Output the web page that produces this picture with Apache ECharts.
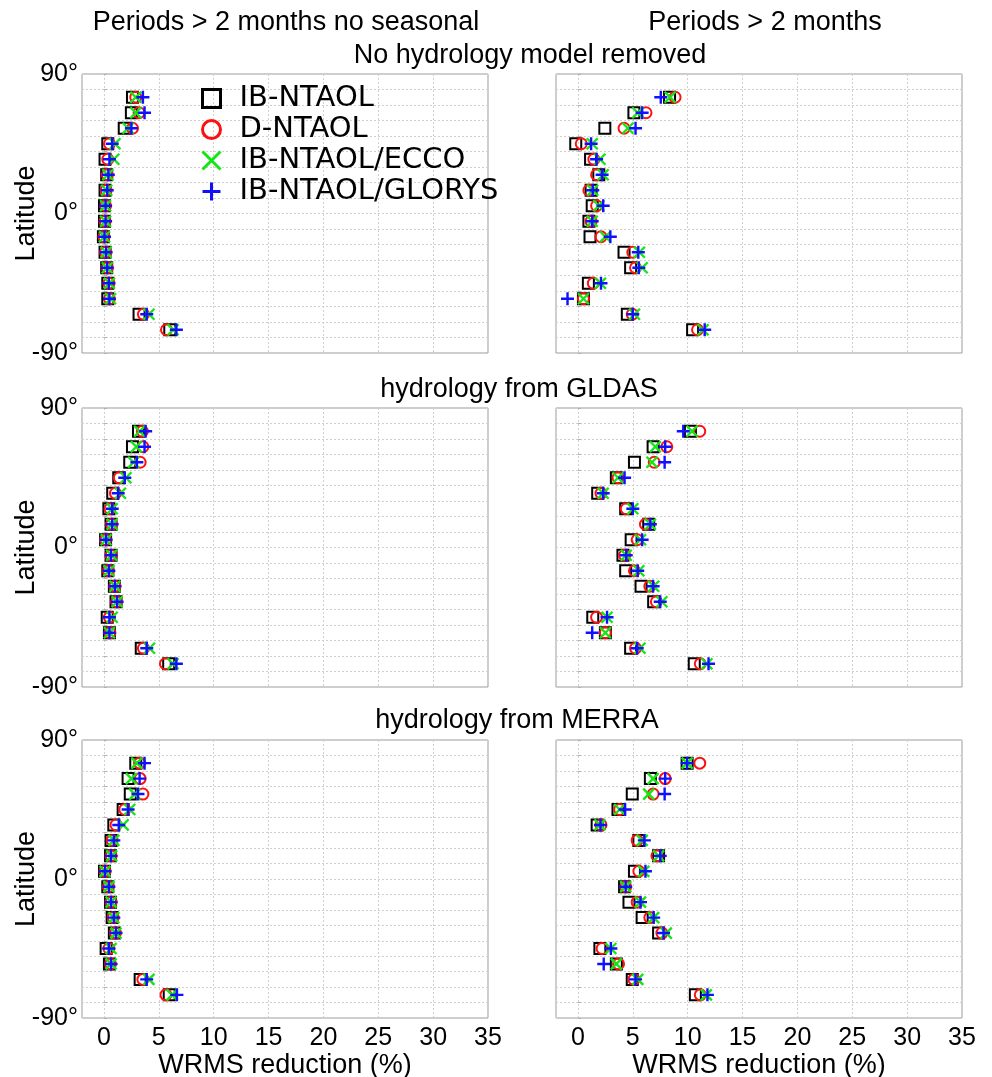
<!DOCTYPE html>
<html><head><meta charset="utf-8">
<script src="https://cdn.jsdelivr.net/npm/echarts@6/dist/echarts.min.js"></script>
<style>html,body{margin:0;padding:0;background:#fff}#c{width:992px;height:1077px}</style>
</head><body><div id="c"></div>
<script>
// ---------------- data ----------------
const latitudes = [75, 65, 55, 45, 35, 25, 15, 5, -5, -15, -25, -35, -45, -55, -65, -75];
const seriesNames = ['IB-NTAOL', 'D-NTAOL', 'IB-NTAOL/ECCO', 'IB-NTAOL/GLORYS'];
const columnTitles = ['Periods > 2 months no seasonal', 'Periods > 2 months'];
const rowTitles = ['No hydrology model removed', 'hydrology from GLDAS', 'hydrology from MERRA'];
const xTickValues = [0, 5, 10, 15, 20, 25, 30, 35];
const yLabelValues = [90, 0, -90];
const yLabelTexts = ['90°', '0°', '-90°'];
const xAxisTitle = 'WRMS reduction (%)';
const yAxisTitle = 'Latitude';

// Row 1 left: no hydrology, no seasonal
const ibA    = [2.6, 2.5, 1.85, 0.35, 0.1, 0.25, 0.1, 0.05, 0.05, -0.05, 0.1, 0.25, 0.35, 0.35, 3.2, 6.0];
const dA     = [2.9, 3.2, 2.6, 0.5, 0.35, 0.3, 0.2, 0.15, 0.1, 0.0, 0.15, 0.3, 0.45, 0.5, 3.6, 5.7];
const eccoA  = [2.9, 2.9, 2.2, 1.0, 0.9, 0.35, 0.25, 0.15, 0.15, 0.05, 0.2, 0.3, 0.5, 0.6, 4.1, 6.3];
const glA    = [3.55, 3.7, 2.5, 0.75, 0.5, 0.4, 0.3, 0.15, 0.15, 0.05, 0.2, 0.3, 0.45, 0.5, 3.9, 6.6];
// Row 1 right: no hydrology
const ibB    = [8.35, 5.1, 2.45, -0.2, 1.15, 1.9, 1.2, 1.3, 1.0, 1.1, 4.2, 4.8, 0.95, 0.5, 4.5, 10.45];
const dB     = [8.85, 6.2, 4.2, 0.3, 1.45, 1.7, 1.0, 1.7, 1.2, 2.1, 5.0, 5.25, 1.4, 0.5, 4.95, 10.9];
const eccoB  = [8.4, 5.45, 4.55, 1.3, 2.0, 2.3, 1.35, 1.9, 1.3, 2.5, 5.6, 5.85, 2.05, 0.5, 5.15, 11.4];
const glB    = [7.55, 5.85, 5.25, 1.2, 1.7, 2.2, 1.35, 2.3, 1.3, 2.95, 5.5, 5.55, 2.1, -0.95, 5.0, 11.55];
// Row 2 left: GLDAS, no seasonal
const ibC    = [3.15, 2.6, 2.35, 1.35, 0.8, 0.45, 0.65, 0.15, 0.65, 0.35, 0.95, 1.1, 0.3, 0.5, 3.4, 5.9];
const dC     = [3.5, 3.55, 3.3, 1.4, 1.05, 0.55, 0.7, 0.15, 0.65, 0.4, 1.0, 1.15, 0.5, 0.55, 3.6, 5.6];
const eccoC  = [3.25, 2.95, 2.7, 2.0, 1.5, 0.75, 0.75, 0.2, 0.7, 0.45, 1.0, 1.2, 0.75, 0.5, 4.15, 6.3];
const glC    = [3.8, 3.7, 3.0, 1.9, 1.3, 0.75, 0.75, 0.2, 0.65, 0.45, 1.0, 1.2, 0.5, 0.5, 3.9, 6.6];
// Row 2 right: GLDAS
const ibD    = [10.25, 6.85, 5.15, 3.5, 1.8, 4.35, 6.45, 4.85, 4.1, 4.35, 5.75, 6.9, 1.35, 2.5, 4.8, 10.6];
const dD     = [11.1, 8.1, 6.95, 3.65, 2.1, 4.4, 6.15, 5.4, 4.25, 5.15, 6.55, 7.15, 1.7, 2.5, 5.25, 11.15];
const eccoD  = [10.4, 7.05, 6.75, 3.65, 2.3, 5.0, 6.6, 5.7, 4.4, 5.55, 6.9, 7.65, 2.65, 2.5, 5.65, 11.75];
const glD    = [9.6, 7.95, 7.9, 4.25, 2.3, 5.0, 6.6, 5.85, 4.4, 5.45, 6.85, 7.5, 2.65, 1.3, 5.4, 11.9];
// Row 3 left: MERRA, no seasonal
const ibE    = [2.9, 2.2, 2.4, 1.75, 0.9, 0.65, 0.6, 0.05, 0.35, 0.6, 0.75, 0.95, 0.2, 0.5, 3.3, 5.95];
const dE     = [3.25, 3.3, 3.55, 1.9, 1.1, 0.75, 0.65, 0.1, 0.4, 0.65, 0.85, 1.05, 0.45, 0.6, 3.55, 5.65];
const eccoE  = [3.0, 2.5, 2.8, 2.35, 1.75, 0.9, 0.7, 0.1, 0.45, 0.65, 0.9, 1.1, 0.65, 0.65, 4.1, 6.2];
const glE    = [3.7, 3.25, 3.1, 2.2, 1.35, 0.9, 0.65, 0.1, 0.45, 0.65, 0.9, 1.1, 0.45, 0.65, 3.9, 6.65];
// Row 3 right: MERRA
const ibF    = [9.95, 6.6, 4.95, 3.65, 1.75, 5.55, 7.35, 5.15, 4.25, 4.65, 5.85, 7.35, 2.0, 3.5, 4.95, 10.7];
const dF     = [11.1, 7.95, 6.85, 3.8, 2.1, 5.4, 7.2, 5.55, 4.35, 5.4, 6.55, 7.65, 2.2, 3.7, 5.1, 11.15];
const eccoF  = [9.95, 6.85, 6.45, 3.8, 2.0, 5.85, 7.35, 6.0, 4.35, 5.7, 6.9, 8.05, 3.0, 3.5, 5.45, 11.7];
const glF    = [9.95, 7.95, 7.9, 4.3, 2.05, 6.05, 7.5, 6.15, 4.35, 5.7, 6.9, 7.8, 3.0, 2.35, 5.25, 11.8];

const panelData = [
  [ibA, dA, eccoA, glA], [ibB, dB, eccoB, glB],
  [ibC, dC, eccoC, glC], [ibD, dD, eccoD, glD],
  [ibE, dE, eccoE, glE], [ibF, dF, eccoF, glF]
];

// ---------------- layout & style ----------------
const gridBoxes = [
  {left: 82, top: 74, width: 406, height: 279}, {left: 556, top: 74, width: 406, height: 279},
  {left: 82, top: 408, width: 406, height: 279}, {left: 556, top: 408, width: 406, height: 279},
  {left: 82, top: 740, width: 406, height: 278}, {left: 556, top: 740, width: 406, height: 278}
];
const markers = [
  {symbol: 'rect', size: 11, color: '#000000', bw: 2},
  {symbol: 'circle', size: 11, color: '#ff1010', bw: 2},
  {symbol: 'path://M0,0L10,10M10,0L0,10', size: 11, color: '#14e614', bw: 2.4},
  {symbol: 'path://M5,0L5,10M0,5L10,5', size: 13, color: '#1010ff', bw: 2.4}
];
const FONT = '"Liberation Sans", Arial, sans-serif';

const grids = [], xAxes = [], yAxes = [], series = [];
gridBoxes.forEach((g, i) => {
  const isLeft = i % 2 === 0;
  const isBottom = i >= 4;
  grids.push(Object.assign({show: true, borderColor: '#9a9a9a', borderWidth: 1, backgroundColor: '#fff',
    containLabel: false, outerBoundsMode: 'none'}, g));
  xAxes.push({
    type: 'value', gridIndex: i, min: -2, max: 35, splitNumber: 7,
    axisLine: {show: false}, axisTick: {show: false},
    splitLine: {show: true, lineStyle: {color: '#d0d0d0', type: [2, 2], width: 1}},
    axisLabel: {
      show: isBottom, fontSize: 25, fontFamily: FONT, color: '#000', margin: 8,
      showMinLabel: true, showMaxLabel: true,
      formatter: v => xTickValues.indexOf(v) >= 0 ? String(v) : ''
    },
    name: isBottom ? xAxisTitle : '', nameLocation: 'middle', nameGap: 34, nameMoveOverlap: false,
    nameTextStyle: {fontSize: 27, fontFamily: FONT, color: '#000'}
  });
  yAxes.push({
    type: 'value', gridIndex: i, min: -90, max: 90, interval: 10,
    axisLine: {show: false},
    axisTick: {show: true, inside: true, length: 3, lineStyle: {color: '#b0b0b0'}},
    splitLine: {show: true, lineStyle: {color: '#d0d0d0', type: [2, 2], width: 1}},
    axisLabel: {
      show: isLeft, fontSize: 25, fontFamily: FONT, color: '#000', margin: 4,
      showMinLabel: true, showMaxLabel: true,
      formatter: v => { const k = yLabelValues.indexOf(v); return k >= 0 ? yLabelTexts[k] : ''; }
    },
    name: isLeft ? yAxisTitle : '', nameLocation: 'middle', nameRotate: 90, nameGap: 42, nameMoveOverlap: false,
    nameTextStyle: {fontSize: 27, fontFamily: FONT, color: '#000'}
  });
  panelData[i].forEach((vals, s) => {
    const m = markers[s];
    series.push({
      type: 'scatter', name: seriesNames[s], xAxisIndex: i, yAxisIndex: i,
      symbol: m.symbol, symbolSize: m.size,
      itemStyle: {color: 'transparent', borderColor: m.color, borderWidth: m.bw, opacity: 1},
      emphasis: {disabled: true},
      data: vals.map((v, k) => [v, latitudes[k]]),
      z: 2 + s
    });
  });
});

const graphics = [
  {type: 'text', x: 286, y: 23, style: {text: columnTitles[0], font: '27px ' + FONT, fill: '#000', align: 'center', verticalAlign: 'middle'}},
  {type: 'text', x: 765, y: 23, style: {text: columnTitles[1], font: '27px ' + FONT, fill: '#000', align: 'center', verticalAlign: 'middle'}},
  {type: 'text', x: 530, y: 56, style: {text: rowTitles[0], font: '27px ' + FONT, fill: '#000', align: 'center', verticalAlign: 'middle'}},
  {type: 'text', x: 519, y: 390, style: {text: rowTitles[1], font: '27px ' + FONT, fill: '#000', align: 'center', verticalAlign: 'middle'}},
  {type: 'text', x: 517, y: 721, style: {text: rowTitles[2], font: '27px ' + FONT, fill: '#000', align: 'center', verticalAlign: 'middle'}}
];

const chart = echarts.init(document.getElementById('c'), null, {renderer: 'canvas'});
chart.setOption({
  animation: false,
  backgroundColor: '#fff',
  grid: grids, xAxis: xAxes, yAxis: yAxes, series: series,
  graphic: graphics,
  legend: {
    data: seriesNames, orient: 'vertical', left: 196, top: 79,
    itemWidth: 18, itemHeight: 18, itemGap: 2, itemTextGap: 10,
    selectedMode: false,
    itemStyle: {borderWidth: 3},
    textStyle: {fontSize: 29, fontFamily: '"DejaVu Sans", sans-serif', color: '#000', lineHeight: 29, padding: [0, 0, 0, 14]}
  }
});
</script></body></html>
